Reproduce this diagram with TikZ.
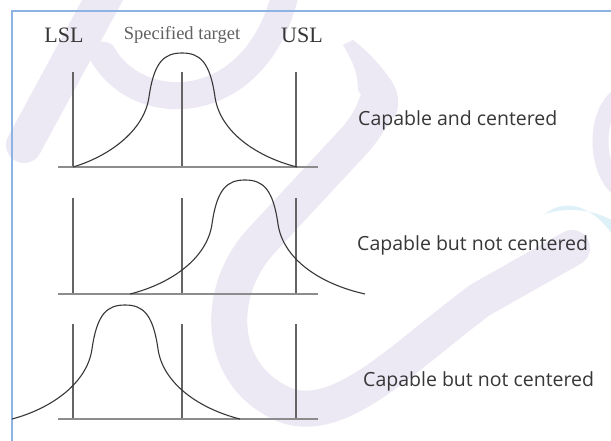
\documentclass[tikz,border=0pt]{standalone}
\usepackage{fontspec}
\setmainfont{Liberation Serif}
\newfontfamily\labelsans{Open Sans}
\definecolor{wmlav}{RGB}{236,232,244}
\definecolor{wmblue}{RGB}{222,241,249}
\definecolor{frameblue}{RGB}{141,179,226}
\definecolor{limitgray}{RGB}{100,100,100}
\definecolor{basegray}{RGB}{140,140,140}
\definecolor{curvegray}{RGB}{55,55,55}
\definecolor{textgray}{RGB}{55,55,55}
\tikzset{
  wm/.style={draw=wmlav, line cap=round},
  framestyle/.style={draw=frameblue, line width=2},
  limitline/.style={draw=limitgray, line width=2.6},
  baseaxis/.style={draw=basegray, line width=2},
  bell/.style={draw=curvegray, line width=1.1},
  toplabel/.style={text=textgray, inner sep=0, anchor=base},
  sidelabel/.style={font=\labelsans\fontsize{19.5}{20}\selectfont, text=textgray, inner sep=0, anchor=base west},
}
% #1 = centre x, #2 = base y, #3 = left end offset, #4 = right end offset
\newcommand\bellshape[4]{%
  \draw[bell, shift={(#1,#2)}] (#3,0) .. controls (-75,-10) and (-38,-35) .. (-33,-70)
     .. controls (-28,-105) and (-18,-114) .. (0,-114)
     .. controls (18,-114) and (28,-105) .. (33,-70)
     .. controls (38,-35) and (75,-10) .. (#4,0);%
}
\begin{document}
\begin{tikzpicture}[x=1pt,y=-1pt]
\useasboundingbox (0,0) rectangle (611,441);
\fill[white] (0,0) rectangle (611,441);
% watermark
\begin{scope}
\clip (0,0) rectangle (611,441);
\draw[wm, line width=36] (24,145) -- (108,-10);
\draw[wm, line width=27] (103,55) .. controls (140,118) and (255,115) .. (285,-5);
\fill[wmlav] (343,45) .. controls (352,60) and (358,72) .. (358,90) -- (370,110) -- (394,118)
   .. controls (402,105) and (398,88) .. (388,76) .. controls (377,61) and (366,50) .. (353,40) -- cycle;
\draw[wm, line width=36] (376,105) .. controls (372,118) and (365,128) .. (355,140) -- (262,240) .. controls (215,290) and (215,375) .. (285,405) .. controls (340,425) and (400,360) .. (480,300) -- (572,248);
\draw[wm, line width=16] (620,95) .. controls (594,112) and (594,170) .. (620,190);
\fill[wmblue] (545,214) .. controls (565,198) and (592,204) .. (615,238) -- (615,222) .. controls (595,210) and (570,206) .. (545,214) -- cycle;
\end{scope}
% frame
\draw[framestyle] (611,11.5) -- (12,11.5) -- (12,441);
% limit lines and axes
\foreach \yb/\yt in {167/72, 294/198, 419/324} {
  \foreach \xx in {73,182,296} {
    \draw[limitline] (\xx,\yt) -- (\xx,\yb);
  }
  \draw[baseaxis] (58,\yb) -- (318,\yb);
}
% curves
\bellshape{182}{167}{-109}{115}
\bellshape{245}{294}{-115}{120}
\bellshape{125}{419}{-113}{115}
% labels
\node[toplabel, font=\fontsize{22}{22}\selectfont] (lsl) at (64,43) {LSL};
\node[toplabel, font=\fontsize{18.5}{19}\selectfont, text=black!62] (target) at (182,40) {Specified target};
\node[toplabel, font=\fontsize{22}{22}\selectfont] (usl) at (302,43) {USL};
\node[sidelabel] (row1) at (358,126) {Capable and centered};
\node[sidelabel] (row2) at (357,251) {Capable but not centered};
\node[sidelabel] (row3) at (363,386) {Capable but not centered};
\end{tikzpicture}
\end{document}
